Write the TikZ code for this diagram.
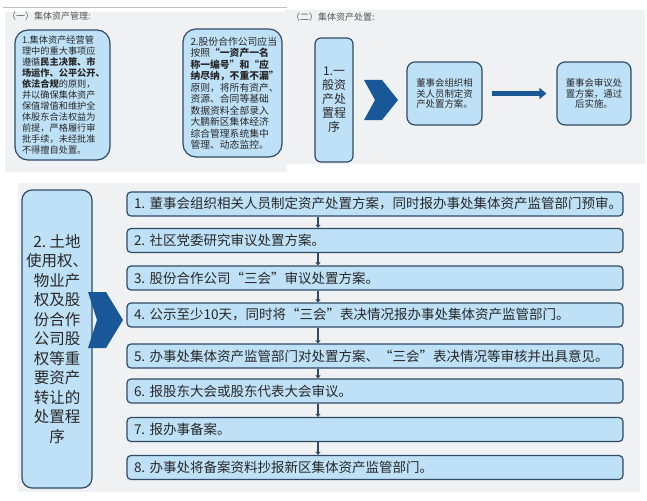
\documentclass[tikz,border=0pt]{standalone}
\usepackage{fontspec}
\newfontfamily\cjk{Noto Sans CJK SC}
\usetikzlibrary{arrows.meta}
\definecolor{boxfill}{RGB}{190,225,247}
\definecolor{boxline}{RGB}{48,74,104}
\definecolor{chev}{RGB}{24,88,152}
\definecolor{panel}{RGB}{240,241,243}
\definecolor{headgray}{RGB}{85,85,85}
\definecolor{txt}{RGB}{40,40,40}
\begin{document}
\begin{tikzpicture}[x=1pt,y=-1pt,
  every node/.style={font=\cjk, text=txt},
  bluebox/.style={draw=boxline, line width=1.2pt, fill=boxfill, inner sep=0pt},
  stepbox/.style={bluebox, rounded corners=4pt, minimum height=24pt, text width=482pt, inner xsep=7pt, align=left, font=\cjk\fontsize{13.5}{15}\selectfont},
  stepconn/.style={draw=boxline, line width=2pt, -{Triangle[length=3pt,width=5pt]}},
  head/.style={font=\cjk\fontsize{9}{11}\selectfont, text=headgray, anchor=west, inner sep=0pt}
]
\useasboundingbox (0,0) rectangle (647,500);
\fill[white] (0,0) rectangle (647,500);
% panels
\fill[panel] (5,12) rectangle (287,172);
\fill[panel] (285,10) rectangle (645,164);
\fill[panel] (18,183) rectangle (640,492);
\draw[gray!50, line width=0.8pt] (3,7) -- (287,7);

% headers
\node[head] (h1) at (7,16) {（一）集体资产管理:};
\node[head] (h2) at (291,17) {（二）集体资产处置:};

% top-left boxes
\node[bluebox, rounded corners=13pt, minimum width=95pt, minimum height=130pt, text width=81pt, align=left,
  font=\cjk\fontsize{9.2}{11}\selectfont] (m1) at (62.5,95)
  {1.集体资产经营管\\理中的重大事项应\\遵循\textbf{民主决策、市}\\\textbf{场运作、公平公开、}\\\textbf{依法合规}的原则，\\并以确保集体资产\\保值增值和维护全\\体股东合法权益为\\前提，严格履行审\\批手续，未经批准\\不得擅自处置。};
\node[bluebox, rounded corners=13pt, minimum width=99pt, minimum height=128pt, text width=84pt, align=left,
  font=\cjk\fontsize{9.8}{11.5}\selectfont] (m2) at (232.5,93)
  {2.股份合作公司应当\\按照\textbf{“一资产一名}\\\textbf{称一编号”和“应}\\\textbf{纳尽纳，不重不漏”}\\原则，将所有资产、\\资源、合同等基础\\数据资料全部录入\\大鹏新区集体经济\\综合管理系统集中\\管理、动态监控。};

% top-right
\node[bluebox, rounded corners=6pt, minimum width=38pt, minimum height=124pt, align=center,
  font=\cjk\fontsize{12}{14}\selectfont] (gen) at (334,100)
  {1.一\\般资\\产处\\置程\\序};
\fill[chev] (364,80) -- (382,80) -- (398,100) -- (382,120) -- (364,120) -- (375,100) -- cycle;
\node[bluebox, rounded corners=8pt, minimum width=75pt, minimum height=63pt, align=center,
  font=\cjk\fontsize{9.4}{10.5}\selectfont] (d1) at (444.5,93.5)
  {董事会组织相\\关人员制定资\\产处置方案。};
\node[bluebox, rounded corners=8pt, minimum width=74pt, minimum height=63pt, align=center,
  font=\cjk\fontsize{9.4}{10.5}\selectfont] (d2) at (594,93.5)
  {董事会审议处\\置方案，通过\\后实施。};
\draw[chev, line width=5pt, -{Triangle[length=7pt,width=11pt]}, shorten <=9pt, shorten >=10pt] (d1) -- (d2);

% bottom
\node[bluebox, rounded corners=10pt, minimum width=70pt, minimum height=298pt, align=center,
  font=\cjk\fontsize{15.5}{19.5}\selectfont] (big) at (57,339)
  {2.~土地\\使用权、\\物业产\\权及股\\份合作\\公司股\\权等重\\要资产\\转让的\\处置程\\序};
\fill[chev] (88,292) -- (106,292) -- (123,320) -- (106,348) -- (88,348) -- (97,320) -- cycle;

\node[stepbox] (s1) at (375,204) {1.~董事会组织相关人员制定资产处置方案，同时报办事处集体资产监管部门预审。};
\node[stepbox] (s2) at (375,240.5) {2.~社区党委研究审议处置方案。};
\node[stepbox] (s3) at (375,278) {3.~股份合作公司“三会”审议处置方案。};
\node[stepbox] (s4) at (375,315) {4.~公示至少10天，同时将“三会”表决情况报办事处集体资产监管部门。};
\node[stepbox] (s5) at (375,356) {5.~办事处集体资产监管部门对处置方案、“三会”表决情况等审核并出具意见。};
\node[stepbox] (s6) at (375,391) {6.~报股东大会或股东代表大会审议。};
\node[stepbox] (s7) at (375,429.5) {7.~报办事备案。};
\node[stepbox] (s8) at (375,467.5) {8.~办事处将备案资料抄报新区集体资产监管部门。};
\foreach \a/\b in {s1/s2,s2/s3,s3/s4,s4/s5,s5/s6,s6/s7,s7/s8}
  \draw[stepconn] ([xshift=-57pt]\a.south) -- ([xshift=-57pt]\b.north);
\end{tikzpicture}
\end{document}
